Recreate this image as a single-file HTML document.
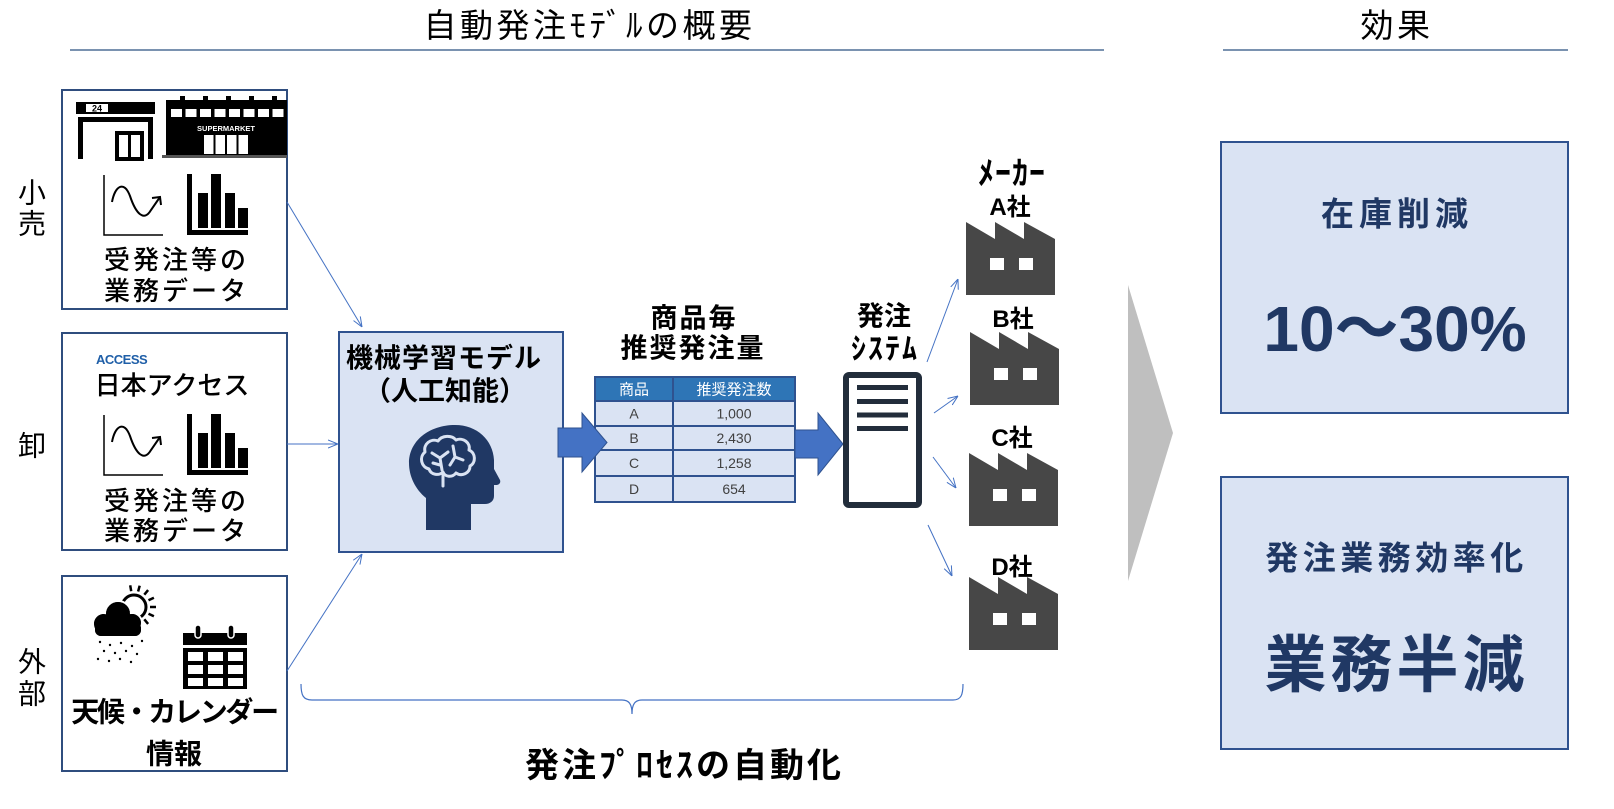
<!DOCTYPE html>
<html><head><meta charset="utf-8">
<style>
html,body{margin:0;padding:0;background:#fff;}
body{width:1614px;height:809px;overflow:hidden;}
svg{display:block;}
text{font-family:"Liberation Sans","Noto Sans CJK JP",sans-serif;}
.b{font-weight:bold;}
</style></head>
<body>
<svg width="1614" height="809" viewBox="0 0 1614 809" xmlns="http://www.w3.org/2000/svg">
<defs>
<marker id="ah" viewBox="0 0 10 10" refX="10" refY="5" markerWidth="10" markerHeight="10" markerUnits="userSpaceOnUse" orient="auto">
<path d="M0,1 L10,5 L0,9" fill="none" stroke="#4472c4" stroke-width="1"/>
</marker>
<g id="fac">
<polygon points="0,0 29,17 29,0 58,17 58,0 89,17 89,73 0,73" fill="#474747"/>
<rect x="24" y="36" width="14" height="12" fill="#fff"/>
<rect x="53" y="36" width="14" height="12" fill="#fff"/>
</g>
</defs>

<!-- header -->
<text x="589.5" y="37" font-size="33" text-anchor="middle" letter-spacing="3.5">自動発注ﾓﾃﾞﾙの概要</text>
<text x="1397" y="37" font-size="33" text-anchor="middle" letter-spacing="3.5">効果</text>
<line x1="70" y1="50" x2="1104" y2="50" stroke="#4f6f96" stroke-width="1.5"/>
<line x1="1223" y1="50" x2="1568" y2="50" stroke="#4f6f96" stroke-width="1.5"/>

<!-- left labels -->
<text x="32" y="202.6" font-size="28" text-anchor="middle">小</text>
<text x="32" y="233.6" font-size="28" text-anchor="middle">売</text>
<text x="32" y="455.6" font-size="28" text-anchor="middle">卸</text>
<text x="32" y="671.6" font-size="28" text-anchor="middle">外</text>
<text x="32" y="703.6" font-size="28" text-anchor="middle">部</text>

<!-- left boxes -->
<rect x="62" y="90" width="225" height="219" fill="#fff" stroke="#2f4d7e" stroke-width="2"/>
<rect x="62" y="333" width="225" height="217" fill="#fff" stroke="#2f4d7e" stroke-width="2"/>
<rect x="62" y="576" width="225" height="195" fill="#fff" stroke="#2f4d7e" stroke-width="2"/>

<!-- store 24 -->
<rect x="76" y="102" width="79" height="12" fill="#000"/>
<rect x="86" y="104" width="22" height="8" fill="#fff"/>
<text x="97" y="111.5" font-size="9" class="b" text-anchor="middle">24</text>
<rect x="78" y="117" width="75" height="5" fill="#000"/>
<rect x="78" y="122" width="5" height="37" fill="#000"/>
<rect x="148" y="122" width="5" height="37" fill="#000"/>
<rect x="117" y="133" width="25" height="26" fill="none" stroke="#000" stroke-width="4"/>
<line x1="129.5" y1="133" x2="129.5" y2="159" stroke="#000" stroke-width="3"/>

<!-- supermarket -->
<rect x="166" y="100" width="121" height="55" fill="#000"/>
<rect x="180" y="96" width="5" height="5" fill="#000"/>
<rect x="203" y="96" width="5" height="5" fill="#000"/>
<rect x="226" y="96" width="5" height="5" fill="#000"/>
<rect x="249" y="96" width="5" height="5" fill="#000"/>
<rect x="272" y="96" width="5" height="5" fill="#000"/>
<g fill="#fff">
<rect x="171" y="109" width="11" height="8"/><rect x="185.5" y="109" width="11" height="8"/>
<rect x="200" y="109" width="11" height="8"/><rect x="214.5" y="109" width="11" height="8"/>
<rect x="229" y="109" width="11" height="8"/><rect x="243.5" y="109" width="11" height="8"/>
<rect x="258" y="109" width="11" height="8"/><rect x="272.5" y="109" width="11" height="8"/>
<rect x="204" y="135" width="9.5" height="19"/><rect x="215.5" y="135" width="9.5" height="19"/>
<rect x="227" y="135" width="9.5" height="19"/><rect x="238.5" y="135" width="9.5" height="19"/>
</g>
<text x="226" y="131" font-size="7.5" class="b" fill="#fff" text-anchor="middle">SUPERMARKET</text>
<rect x="162" y="155" width="125" height="3" fill="#555"/>

<!-- charts box1 -->
<g id="charts">
<polyline points="104,175 104,235 163,235" fill="none" stroke="#000" stroke-width="1.5"/>
<path d="M112,202 C115,186 124,180 130,196 C136,214 144,222 151,210 L160,197" fill="none" stroke="#000" stroke-width="2"/>
<polyline points="152,198 160,197 161,205" fill="none" stroke="#000" stroke-width="2"/>
<rect x="187" y="174" width="5" height="61" fill="#000"/>
<rect x="187" y="230" width="61" height="5" fill="#000"/>
<rect x="198" y="193" width="10" height="35" fill="#000"/>
<rect x="211" y="174" width="10" height="54" fill="#000"/>
<rect x="225" y="193" width="10" height="35" fill="#000"/>
<rect x="238" y="208" width="10" height="20" fill="#000"/>
</g>
<use href="#charts" transform="translate(0,240)"/>

<text x="176.5" y="268.9" font-size="26" font-weight="500" text-anchor="middle" letter-spacing="3">受発注等の</text>
<text x="176.5" y="299.9" font-size="26" font-weight="500" text-anchor="middle" letter-spacing="3">業務データ</text>

<!-- box2 -->
<text x="96" y="364" font-size="13" class="b" fill="#1f5fa8" letter-spacing="-0.5">ACCESS</text>
<text x="172" y="394.5" font-size="26" font-weight="500" text-anchor="middle">日本アクセス</text>
<text x="176.5" y="509.9" font-size="26" font-weight="500" text-anchor="middle" letter-spacing="3">受発注等の</text>
<text x="176.5" y="539.9" font-size="26" font-weight="500" text-anchor="middle" letter-spacing="3">業務データ</text>

<!-- weather -->
<circle cx="134" cy="607" r="12" fill="none" stroke="#000" stroke-width="3"/>
<g stroke="#000" stroke-width="2.5">
<line x1="131.2" y1="591.2" x2="130.2" y2="585.3"/>
<line x1="138.1" y1="591.5" x2="139.7" y2="585.7"/>
<line x1="144.3" y1="594.7" x2="148.1" y2="590.1"/>
<line x1="148.5" y1="600.2" x2="153.9" y2="597.7"/>
<line x1="150" y1="607" x2="156" y2="607"/>
<line x1="148.5" y1="613.8" x2="153.9" y2="616.3"/>
<line x1="144.3" y1="619.3" x2="148.1" y2="623.9"/>
<line x1="138.1" y1="622.5" x2="139.7" y2="628.3"/>
</g>
<g fill="#000" stroke="#fff" stroke-width="2">
<circle cx="104" cy="624" r="11"/><circle cx="118" cy="614" r="13"/><circle cx="132" cy="623" r="10"/>
<rect x="94" y="622" width="48" height="15" rx="7"/>
</g>
<g fill="#000">
<circle cx="104" cy="624" r="10"/><circle cx="118" cy="614" r="12"/><circle cx="132" cy="623" r="9"/>
<rect x="95" y="622" width="46" height="14" rx="6"/>
<circle cx="100" cy="642" r="1.2"/><circle cx="110" cy="645" r="1.2"/><circle cx="121" cy="643" r="1.2"/>
<circle cx="132" cy="646" r="1.2"/><circle cx="142" cy="641" r="1.2"/><circle cx="104" cy="651" r="1.2"/>
<circle cx="115" cy="653" r="1.2"/><circle cx="126" cy="651" r="1.2"/><circle cx="137" cy="654" r="1.2"/>
<circle cx="98" cy="659" r="1.2"/><circle cx="109" cy="661" r="1.2"/><circle cx="120" cy="659" r="1.2"/>
<circle cx="131" cy="662" r="1.2"/>
</g>

<!-- calendar -->
<rect x="183" y="633" width="64" height="12" fill="#000"/>
<rect x="183" y="648" width="64" height="41" fill="#000"/>
<g fill="#fff">
<rect x="188" y="652" width="15" height="9"/><rect x="208" y="652" width="15" height="9"/><rect x="228" y="652" width="15" height="9"/>
<rect x="188" y="665" width="15" height="9"/><rect x="208" y="665" width="15" height="9"/><rect x="228" y="665" width="15" height="9"/>
<rect x="188" y="678" width="15" height="8"/><rect x="208" y="678" width="15" height="8"/><rect x="228" y="678" width="15" height="8"/>
</g>
<rect x="195" y="625" width="6" height="13" rx="3" fill="#000" stroke="#fff" stroke-width="1.5"/>
<rect x="228" y="625" width="6" height="13" rx="3" fill="#000" stroke="#fff" stroke-width="1.5"/>

<text x="174" y="721.6" font-size="28" class="b" text-anchor="middle" letter-spacing="-2.3">天候・カレンダー</text>
<text x="174" y="763.6" font-size="28" class="b" text-anchor="middle">情報</text>

<!-- connectors -->
<g stroke="#4472c4" stroke-width="1" fill="none" marker-end="url(#ah)">
<line x1="287" y1="202" x2="362" y2="327"/>
<line x1="287" y1="444" x2="338" y2="444"/>
<line x1="287" y1="671" x2="362" y2="554"/>
<line x1="927" y1="362" x2="958" y2="279"/>
<line x1="934" y1="413" x2="958" y2="396"/>
<line x1="933" y1="457" x2="956" y2="488"/>
<line x1="928" y1="525" x2="952" y2="576"/>
</g>

<!-- ML box -->
<rect x="339" y="332" width="224" height="220" fill="#dae3f3" stroke="#2f528f" stroke-width="2"/>
<text x="444" y="367.3" font-size="27" class="b" text-anchor="middle" letter-spacing="1">機械学習モデル</text>
<text x="445" y="400.3" font-size="27" class="b" text-anchor="middle">（人工知能）</text>
<g transform="translate(409,425)">
<path d="M17,105 L17,73 C6,64 0,51 0,38 C0,16 20,0 46,0 C68,0 84,15 85,35 L85,44 L91,55 C92,58 90,60 87,60 L85,60 L85,71 C85,76 81,79 76,79 L62,79 L62,105 Z" fill="#203864"/>
<g stroke="#dae3f3" stroke-width="3" fill="none" stroke-linecap="round" stroke-linejoin="round">
<path d="M20,44 C12,42 10,32 16,27 C14,19 22,13 29,16 C33,10 43,10 47,15 C54,12 62,18 60,25 C67,28 67,38 61,41 C61,48 53,52 47,48 C43,53 36,52 34,47 C30,51 22,50 20,44 Z"/>
<path d="M34,48 L34,61"/>
<path d="M23,28 L31,33 L39,27 M31,33 L33,45 M44,21 L46,32 L54,35 M46,32 L41,40 M24,38 L31,40"/>
</g>
</g>

<!-- table -->
<text x="694" y="327.3" font-size="27" class="b" text-anchor="middle" letter-spacing="2">商品毎</text>
<text x="693" y="357.3" font-size="27" class="b" text-anchor="middle" letter-spacing="2">推奨発注量</text>
<rect x="595" y="377" width="200" height="125" fill="#dae3f3"/>
<rect x="595" y="377" width="200" height="24" fill="#2e75b6"/>
<g stroke="#2f528f" stroke-width="2" fill="none">
<rect x="595" y="377" width="200" height="125"/>
<line x1="673" y1="377" x2="673" y2="502"/>
<line x1="595" y1="401" x2="795" y2="401"/>
<line x1="595" y1="426" x2="795" y2="426"/>
<line x1="595" y1="450" x2="795" y2="450"/>
<line x1="595" y1="476" x2="795" y2="476"/>
</g>
<text x="634" y="394.7" font-size="15" fill="#fff" text-anchor="middle">商品</text>
<text x="734" y="394.7" font-size="15" fill="#fff" text-anchor="middle">推奨発注数</text>
<g font-size="14" fill="#404040" text-anchor="middle">
<text x="634" y="418.5">A</text><text x="734" y="418.5">1,000</text>
<text x="634" y="443">B</text><text x="734" y="443">2,430</text>
<text x="634" y="468">C</text><text x="734" y="468">1,258</text>
<text x="634" y="494">D</text><text x="734" y="494">654</text>
</g>

<!-- big arrows -->
<polygon points="558,428 582,428 582,413 607,442.5 582,472 582,457 558,457" fill="#4472c4" stroke="#2f528f" stroke-width="1"/>
<polygon points="795,430 818,430 818,413 843,444 818,475 818,458 795,458" fill="#4472c4" stroke="#2f528f" stroke-width="1"/>

<!-- order system -->
<text x="884" y="325.3" font-size="27" class="b" text-anchor="middle">発注</text>
<text x="885" y="359" font-size="30" class="b" text-anchor="middle" letter-spacing="2">ｼｽﾃﾑ</text>
<rect x="846" y="375" width="73" height="130" rx="3" fill="#fff" stroke="#222d3b" stroke-width="6"/>
<g stroke="#222d3b" stroke-width="5">
<line x1="857" y1="387.5" x2="908" y2="387.5"/>
<line x1="857" y1="401.5" x2="908" y2="401.5"/>
<line x1="857" y1="415" x2="908" y2="415"/>
<line x1="857" y1="428.5" x2="908" y2="428.5"/>
</g>

<!-- factories -->
<text x="1012" y="184" font-size="32" class="b" text-anchor="middle" letter-spacing="1">ﾒｰｶｰ</text>
<text x="1010" y="215" font-size="24" class="b" text-anchor="middle">A社</text>
<text x="1013" y="327" font-size="24" class="b" text-anchor="middle">B社</text>
<text x="1012" y="446" font-size="24" class="b" text-anchor="middle">C社</text>
<text x="1012" y="575" font-size="24" class="b" text-anchor="middle">D社</text>
<use href="#fac" transform="translate(966,222)"/>
<use href="#fac" transform="translate(970,332)"/>
<use href="#fac" transform="translate(969,453)"/>
<use href="#fac" transform="translate(969,577)"/>

<!-- brace -->
<path d="M301,684 C301,695 303,700 312,700 L622,700 C629,700 632,704 632,714 C632,704 635,700 642,700 L953,700 C961,700 963,695 963,684" fill="none" stroke="#4472c4" stroke-width="1.2"/>
<text x="684.5" y="777" font-size="34" class="b" text-anchor="middle" letter-spacing="3">発注ﾌﾟﾛｾｽの自動化</text>

<!-- chevron -->
<polygon points="1128,285 1173,433 1128,581" fill="#bfbfbf"/>

<!-- right boxes -->
<rect x="1221" y="142" width="347" height="271" fill="#dae3f3" stroke="#2f528f" stroke-width="2"/>
<rect x="1221" y="477" width="347" height="272" fill="#dae3f3" stroke="#2f528f" stroke-width="2"/>
<text x="1397" y="225.5" font-size="33" class="b" fill="#203864" text-anchor="middle" letter-spacing="5">在庫削減</text>
<text x="1395" y="351" font-size="64" class="b" fill="#203864" text-anchor="middle">10～30%</text>
<text x="1396.5" y="569.5" font-size="33" class="b" fill="#203864" text-anchor="middle" letter-spacing="4.5">発注業務効率化</text>
<text x="1396.5" y="686.5" font-size="62" class="b" fill="#203864" text-anchor="middle" letter-spacing="4">業務半減</text>
</svg>
</body></html>
